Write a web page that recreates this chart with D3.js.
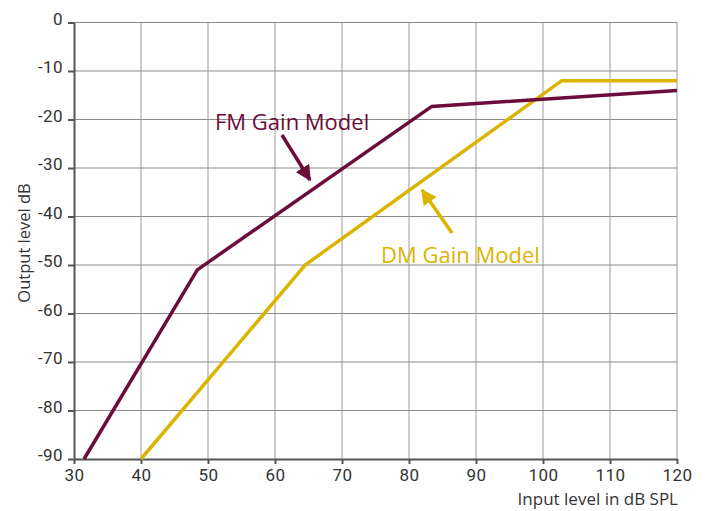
<!DOCTYPE html>
<html>
<head>
<meta charset="utf-8">
<script src="https://cdn.jsdelivr.net/npm/d3@7"></script>
<style>
  body { margin: 0; background: #fff; }
  svg { display: block; }
</style>
</head>
<body>
<div id="chart"></div>
<script>
(() => {
  // Chart data
  const xTicks = [30, 40, 50, 60, 70, 80, 90, 100, 110, 120];
  const yTicks = [0, -10, -20, -30, -40, -50, -60, -70, -80, -90];
  const fmGain = [[31.5, -90], [48.4, -51], [83.4, -17.3], [120, -14]];
  const dmGain = [[40, -90], [64.5, -50], [102.8, -12], [120, -12]];
  const labels = ["FM Gain Model", "DM Gain Model"];

  const width = 706, height = 511;
  const margin = { top: 22.5, right: 29, bottom: 52, left: 74 };
  const fmColor = "#6b0c3a", dmColor = "#dbb400";

  const svg = d3.select("#chart").append("svg")
    .attr("width", width)
    .attr("height", height);

  const x = d3.scaleLinear().domain([30, 120]).range([margin.left, width - margin.right]);
  const y = d3.scaleLinear().domain([-90, 0]).range([height - margin.bottom, margin.top]);

  // grid
  svg.append("g")
    .selectAll("line")
    .data(xTicks.slice(1))
    .join("line")
    .attr("x1", d => x(d)).attr("x2", d => x(d))
    .attr("y1", y(0)).attr("y2", y(-90))
    .attr("stroke", "#bdbdbd").attr("stroke-width", 1.5);

  svg.append("g")
    .selectAll("line")
    .data(yTicks.slice(0, -1))
    .join("line")
    .attr("x1", x(30)).attr("x2", x(120))
    .attr("y1", d => y(d)).attr("y2", d => y(d))
    .attr("stroke", "#8c8c8c").attr("stroke-width", 1.2);

  // axes
  const xAxis = svg.append("g")
    .attr("transform", `translate(0,${y(-90)})`)
    .call(d3.axisBottom(x).tickValues(xTicks).tickSize(5).tickSizeOuter(0).tickPadding(5));
  const yAxis = svg.append("g")
    .attr("transform", `translate(${x(30)},0)`)
    .call(d3.axisLeft(y).tickValues(yTicks).tickSize(6).tickSizeOuter(0).tickPadding(5)
      .tickFormat(d => d === 0 ? "0" : "-" + Math.abs(d)));

  [xAxis, yAxis].forEach(g => {
    g.select(".domain").attr("stroke", "#555").attr("stroke-width", 2);
    g.selectAll(".tick line").attr("stroke", "#555").attr("stroke-width", 2);
    g.selectAll(".tick text")
      .attr("fill", "#333")
      .attr("font-family", "Roboto, sans-serif")
      .attr("font-size", 17)
      .attr("letter-spacing", 0.4);
  });
  yAxis.selectAll(".tick text").attr("dy", "0.1em");

  // axis titles
  svg.append("text")
    .attr("x", x(120) + 1).attr("y", 505)
    .attr("text-anchor", "end")
    .attr("font-family", "'Open Sans', sans-serif")
    .attr("font-size", 17)
    .attr("fill", "#333")
    .text("Input level in dB SPL");

  svg.append("text")
    .attr("transform", "translate(30,243) rotate(-90)")
    .attr("text-anchor", "middle")
    .attr("font-family", "'Open Sans', sans-serif")
    .attr("font-size", 16.5)
    .attr("fill", "#333")
    .text("Output level dB");

  // lines
  const line = d3.line().x(d => x(d[0])).y(d => y(d[1]));
  svg.append("path").datum(dmGain)
    .attr("fill", "none").attr("stroke", dmColor).attr("stroke-width", 3.5)
    .attr("d", line);
  svg.append("path").datum(fmGain)
    .attr("fill", "none").attr("stroke", fmColor).attr("stroke-width", 3.5)
    .attr("d", line);

  // annotations
  const defs = svg.append("defs");
  [["fmArrow", fmColor], ["dmArrow", dmColor]].forEach(([id, c]) => {
    defs.append("marker")
      .attr("id", id)
      .attr("viewBox", "0 0 10 10")
      .attr("refX", 9).attr("refY", 5)
      .attr("markerWidth", 4.5).attr("markerHeight", 4.5)
      .attr("markerUnits", "strokeWidth")
      .attr("orient", "auto")
      .append("path").attr("d", "M0,0 L10,5 L0,10 Z").attr("fill", c);
  });

  svg.append("text")
    .attr("x", 215).attr("y", 130)
    .attr("font-family", "'Open Sans', sans-serif")
    .attr("font-size", 22)
    .attr("fill", fmColor)
    .text(labels[0]);
  svg.append("line")
    .attr("x1", 282).attr("y1", 135).attr("x2", 310).attr("y2", 180)
    .attr("stroke", fmColor).attr("stroke-width", 3.5)
    .attr("marker-end", "url(#fmArrow)");

  svg.append("text")
    .attr("x", 381).attr("y", 263)
    .attr("font-family", "'Open Sans', sans-serif")
    .attr("font-size", 22)
    .attr("fill", dmColor)
    .text(labels[1]);
  svg.append("line")
    .attr("x1", 452).attr("y1", 233).attr("x2", 422).attr("y2", 190)
    .attr("stroke", dmColor).attr("stroke-width", 3.5)
    .attr("marker-end", "url(#dmArrow)");
})();
</script>
</body>
</html>
